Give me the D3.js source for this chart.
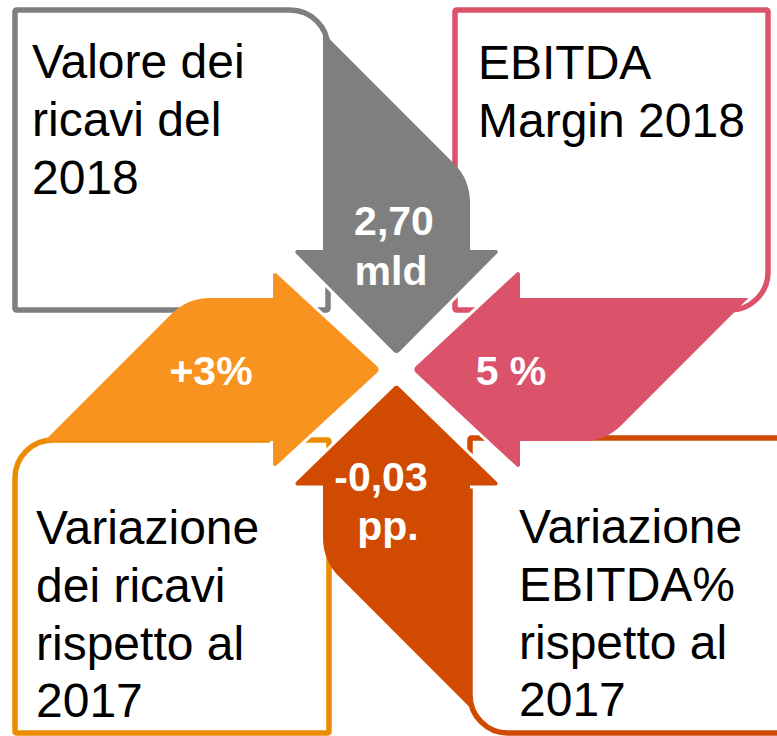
<!DOCTYPE html>
<html>
<head>
<meta charset="utf-8">
<script src="https://cdn.jsdelivr.net/npm/d3@7"></script>
<style>
  html, body { margin: 0; padding: 0; background: #ffffff; }
  svg { display: block; }
</style>
</head>
<body>
<div id="chart"></div>
<script>
// quadrant texts and values, order: top-left, top-right, bottom-left, bottom-right
var titles = [
  ["Valore dei", "ricavi del", "2018"],
  ["EBITDA", "Margin 2018"],
  ["Variazione", "dei ricavi", "rispetto al", "2017"],
  ["Variazione", "EBITDA%", "rispetto al", "2017"]
];
var values = [["2,70", "mld"], ["5 %"], ["+3%"], ["-0,03", "pp."]];
var arrowColours = ["#7F7F7F", "#DB536A", "#F7931E", "#D04A02"];
var boxColours = ["#7F7F7F", "#DB536A", "#EB8C00", "#D04A02"];

var width = 777, height = 736;
var cx = 396.5, cy = 369.5;

// local arrow frame: a = distance back from the centre, c = across (box side is negative)
var frames = {
  down:  function(c, a) { return [cx + c, cy - a]; },
  left:  function(c, a) { return [cx + a, cy + c]; },
  up:    function(c, a) { return [cx - c, cy + a]; },
  right: function(c, a) { return [cx - a, cy - c]; }
};

var boxes = [
  {x1: 15,  y1: 10,  x2: 328, y2: 310, corner: "tr"},
  {x1: 455, y1: 10,  x2: 768, y2: 310, corner: "br"},
  {x1: 15,  y1: 440, x2: 329, y2: 733, corner: "tl"},
  {x1: 470, y1: 438, x2: 800, y2: 733, corner: "bl"}
];

var arrows = [
  {dir: "down",  sw: 73.5, hw: 104, base: 119.5, tip: 15, far: 190},
  {dir: "left",  sw: 71.5, hw: 100, base: 123.5, tip: 16, far: 209},
  {dir: "right", sw: 71.5, hw: 99,  base: 123.5, tip: 16, far: 209},
  {dir: "up",    sw: 73.5, hw: 104, base: 116,   tip: 15, far: 191}
];

var titlePos = [{x: 32, y: 78}, {x: 478, y: 79}, {x: 36, y: 544}, {x: 519, y: 543}];
var labelPos = [
  [{c: -2.5, a: 134.5}, {c: -5.5, a: 84.5}],
  [{c: 15.5, a: 114.5}],
  [{c: -15.5, a: 185.5}],
  [{c: 15.5, a: 121.5}, {c: 8.5, a: 170.5}]
];

function roundedPath(pts) {
  var p = d3.path();
  var n = pts.length;
  var last = pts[n - 1], first = pts[0];
  p.moveTo((last.x + first.x) / 2, (last.y + first.y) / 2);
  for (var i = 0; i < n; i++) {
    var cur = pts[i], next = pts[(i + 1) % n];
    if (cur.r) p.arcTo(cur.x, cur.y, next.x, next.y, cur.r);
    else p.lineTo(cur.x, cur.y);
  }
  p.closePath();
  return p.toString();
}

function boxPath(b) {
  var r = 38, s = 1.5;
  return roundedPath([
    {x: b.x1, y: b.y1, r: b.corner == "tl" ? r : s},
    {x: b.x2, y: b.y1, r: b.corner == "tr" ? r : s},
    {x: b.x2, y: b.y2, r: b.corner == "br" ? r : s},
    {x: b.x1, y: b.y2, r: b.corner == "bl" ? r : s}
  ]);
}

function toScreen(f, list) {
  return list.map(function(q) {
    var xy = f(q.c, q.a);
    return {x: xy[0], y: xy[1], r: q.r};
  });
}

function arrowPath(d) {
  var f = frames[d.dir];
  return roundedPath(toScreen(f, [
    {c: 0, a: d.tip, r: 4},
    {c: d.hw, a: d.base, r: 2},
    {c: d.sw, a: d.base},
    {c: d.sw, a: d.far, r: 55},
    {c: -d.sw, a: d.far + 2 * d.sw},
    {c: -d.sw, a: d.base},
    {c: -d.hw, a: d.base, r: 2}
  ]));
}

function headPath(d) {
  var f = frames[d.dir];
  return roundedPath(toScreen(f, [
    {c: 0, a: d.tip, r: 4},
    {c: d.hw, a: d.base, r: 2},
    {c: d.sw, a: d.base},
    {c: -d.sw, a: d.base},
    {c: -d.hw, a: d.base, r: 2}
  ]));
}

var svg = d3.select("#chart").append("svg")
  .attr("width", width)
  .attr("height", height);

// boxes
svg.append("g").selectAll("path")
  .data(boxes)
  .enter().append("path")
    .attr("d", boxPath)
    .attr("fill", "#ffffff")
    .attr("stroke", function(d, i) { return boxColours[i]; })
    .attr("stroke-width", 5.5);

// box titles
var tg = svg.append("g")
  .style("font-family", "'Liberation Sans', Arial, sans-serif")
  .style("font-size", "48px")
  .attr("fill", "#000000");
titles.forEach(function(lines, i) {
  var t = tg.append("text").attr("x", titlePos[i].x).attr("y", titlePos[i].y);
  lines.forEach(function(l, j) {
    t.append("tspan").attr("x", titlePos[i].x).attr("dy", j == 0 ? 0 : 57.8).text(l);
  });
});

// arrows: white halo round the head, then the fill
var ag = svg.append("g");
arrows.forEach(function(d, i) {
  ag.append("path")
    .attr("d", headPath(d))
    .attr("fill", "#ffffff")
    .attr("stroke", "#ffffff")
    .attr("stroke-width", 6)
    .attr("stroke-linejoin", "round");
  ag.append("path")
    .attr("d", arrowPath(d))
    .attr("fill", arrowColours[i]);
});

// values
var vg = svg.append("g")
  .style("font-family", "'Liberation Sans', Arial, sans-serif")
  .style("font-size", "41px")
  .style("font-weight", "bold")
  .attr("fill", "#ffffff")
  .attr("text-anchor", "middle");
values.forEach(function(lines, i) {
  var f = frames[arrows[i].dir];
  lines.forEach(function(l, j) {
    var xy = f(labelPos[i][j].c, labelPos[i][j].a);
    vg.append("text").attr("x", xy[0]).attr("y", xy[1]).text(l);
  });
});
</script>
</body>
</html>
